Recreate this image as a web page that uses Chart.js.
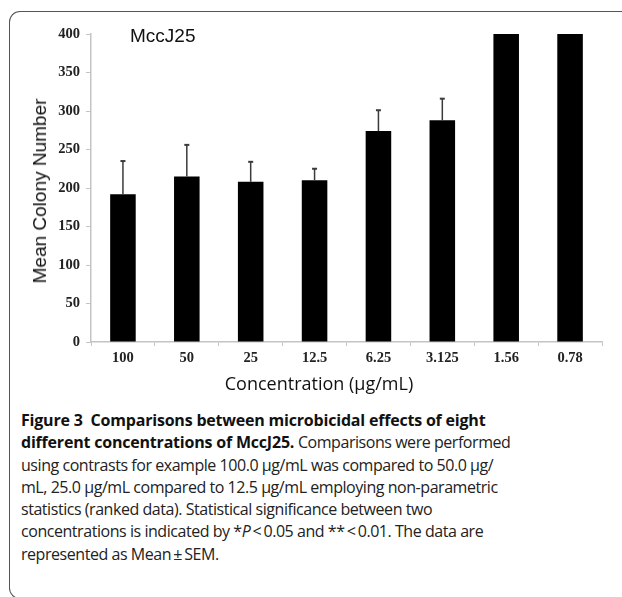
<!DOCTYPE html>
<html>
<head>
<meta charset="utf-8">
<script src="https://cdn.jsdelivr.net/npm/chart.js@4.4.1/dist/chart.umd.min.js"></script>
<style>
  body { margin: 0; width: 622px; height: 597px; overflow: hidden; background: #fff; position: relative; }
  #frame { position: absolute; left: 9px; top: 11px; width: 700px; height: 588px; box-sizing: border-box;
           border: 1.5px solid #555; border-right: none; border-radius: 11px 0 0 11px; }
  #chart { position: absolute; left: 0; top: 0; }
  .lbl { position: absolute; white-space: nowrap; color: #111; }
  #tag { left: 130px; top: 26px; font: 19px "Liberation Sans", Arial, sans-serif; line-height: 19px; }
  #ytitle { left: 40px; top: 191px; transform: translate(-50%, -50%) rotate(-90deg); font: 19px "Liberation Sans", Arial, sans-serif; }
  #xtitle { left: 319px; top: 383px; transform: translate(-50%, -50%); font: 18px "Open Sans", sans-serif; }
  #caption { position: absolute; left: 21px; top: 409px; font: 16px "Open Sans", sans-serif; line-height: 22.3px; color: #222; white-space: nowrap; letter-spacing: -0.45px; }
  #caption b { color: #111; letter-spacing: -0.2px; }
</style>
</head>
<body>
<div id="frame"></div>
<canvas id="chart" width="622" height="400"></canvas>
<div class="lbl" id="tag">MccJ25</div>
<div class="lbl" id="ytitle">Mean Colony Number</div>
<div class="lbl" id="xtitle">Concentration (μg/mL)</div>
<div id="caption">
  <div><b>Figure 3&nbsp;&nbsp;Comparisons between microbicidal effects of eight</b></div>
  <div><b>different concentrations of MccJ25.</b> Comparisons were performed</div>
  <div>using contrasts for example 100.0 μg/mL was compared to 50.0 μg/</div>
  <div>mL, 25.0 μg/mL compared to 12.5 μg/mL employing non-parametric</div>
  <div>statistics (ranked data). Statistical significance between two</div>
  <div>concentrations is indicated by *<i>P</i>&thinsp;&lt;&thinsp;0.05 and **&thinsp;&lt;&thinsp;0.01. The data are</div>
  <div>represented as Mean&thinsp;±&thinsp;SEM.</div>
</div>
<script>
// concentrations in ug/mL, mean colony counts and SEM
const concentrations = ["100", "50", "25", "12.5", "6.25", "3.125", "1.56", "0.78"];
const means = [192, 215, 208, 210, 274, 288, 400, 400];
const sem = [43, 41, 26, 15, 27, 28, 0, 0];
const yTicks = [0, 50, 100, 150, 200, 250, 300, 350, 400];

// error bars drawn on top of each bar (upper half only)
const errorBars = {
  id: "errorBars",
  afterDatasetsDraw(chart) {
    let ctx = chart.ctx;
    let y = chart.scales.y;
    let meta = chart.getDatasetMeta(0);
    ctx.save();
    ctx.strokeStyle = "#3a3a3a";
    meta.data.forEach(function (bar, i) {
      if (!sem[i]) return;
      let top = y.getPixelForValue(means[i] + sem[i]);
      ctx.lineWidth = 1.5;
      ctx.beginPath();
      ctx.moveTo(bar.x, bar.y);
      ctx.lineTo(bar.x, top);
      ctx.stroke();
      ctx.lineWidth = 2;
      ctx.beginPath();
      ctx.moveTo(bar.x - 2.5, top);
      ctx.lineTo(bar.x + 2.5, top);
      ctx.stroke();
    });
    ctx.restore();
  }
};

let tickFont = { family: "'Liberation Serif', 'Times New Roman', serif", size: 14.5, weight: "bold" };

new Chart(document.getElementById("chart"), {
  type: "bar",
  data: {
    labels: concentrations,
    datasets: [{
      label: "Mean Colony Number",
      data: means,
      backgroundColor: "#000",
      borderWidth: 0,
      barPercentage: 0.4,
      categoryPercentage: 1.0
    }]
  },
  options: {
    responsive: false,
    animation: false,
    devicePixelRatio: 1,
    layout: { padding: { left: 0, right: 20, top: 34, bottom: 0 } },
    plugins: {
      legend: { display: false },
      tooltip: { enabled: false }
    },
    scales: {
      x: {
        grid: { display: true, drawOnChartArea: false, drawTicks: true, tickLength: 4, color: "#c4c4c4", offset: true },
        border: { color: "#c4c4c4", width: 1.5 },
        ticks: { font: tickFont, color: "#222", padding: 4, maxRotation: 0 },
        afterFit: function (scale) { scale.height = 58; }
      },
      y: {
        min: 0,
        max: 400,
        afterBuildTicks: function (scale) { scale.ticks = yTicks.map(v => ({ value: v })); },
        grid: { display: true, drawOnChartArea: false, drawTicks: true, tickLength: 5, color: "#c4c4c4" },
        border: { color: "#c4c4c4", width: 1.5 },
        ticks: { font: tickFont, color: "#222", padding: 6 },
        afterFit: function (scale) { scale.width = 91; }
      }
    }
  },
  plugins: [errorBars]
});
</script>
</body>
</html>
